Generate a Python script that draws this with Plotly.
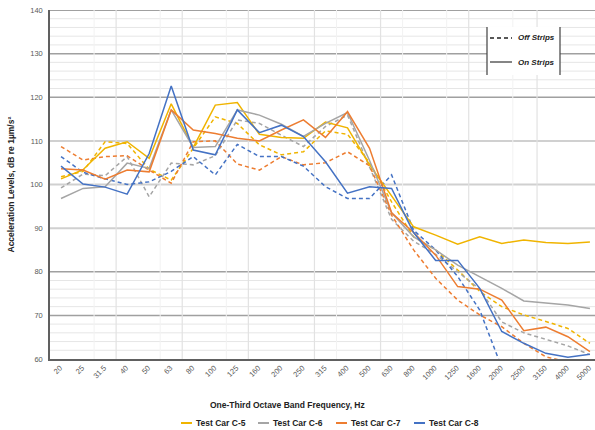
import plotly.graph_objects as go

freqs = ["20", "25", "31.5", "40", "50", "63", "80", "100", "125", "160", "200", "250",
         "315", "400", "500", "630", "800", "1000", "1250", "1600", "2000", "2500",
         "3150", "4000", "5000"]

# On strips (solid)
c5_on = [101.3, 103.4, 108.3, 109.8, 106.0, 118.5, 108.5, 118.2, 118.8, 111.5, 110.8, 110.6,
         114.3, 113.0, 104.5, 97.5, 90.3, 88.4, 86.3, 88.0, 86.5, 87.3, 86.7, 86.5, 86.8]
c6_on = [96.8, 99.1, 99.5, 104.9, 103.7, 117.1, 108.5, 108.7, 117.1, 115.9, 113.8, 111.0,
         114.0, 116.5, 105.5, 93.5, 88.0, 85.0, 81.5, 78.9, 76.2, 73.3, 72.9, 72.4, 71.6]
c7_on = [103.6, 103.3, 101.2, 103.3, 102.9, 117.1, 112.5, 111.7, 110.6, 110.0, 112.5, 114.8,
         110.8, 116.7, 108.3, 93.5, 89.0, 83.8, 76.6, 76.0, 73.5, 66.5, 67.3, 65.1, 61.7]
c8_on = [104.2, 100.1, 99.4, 97.8, 107.1, 122.6, 107.9, 106.8, 117.1, 111.9, 113.6, 111.0,
         105.2, 98.0, 99.5, 99.1, 89.0, 82.6, 82.6, 76.2, 66.3, 63.6, 61.3, 60.4, 61.1]

# Off strips (dashed)
c5_off = [101.8, 103.0, 109.8, 109.4, 103.5, 101.0, 108.3, 115.5, 114.0, 109.1, 106.8, 107.5,
          112.3, 111.5, 105.0, 96.0, 88.0, 85.0, 80.4, 75.5, 72.0, 70.1, 68.6, 67.0, 63.6]
c6_off = [99.2, 102.4, 102.0, 106.4, 97.2, 104.9, 104.5, 106.6, 114.8, 114.0, 111.3, 108.7,
          113.3, 115.9, 104.0, 92.0, 87.0, 84.0, 80.0, 76.0, 68.5, 66.0, 64.5, 63.0, 61.0]
c7_off = [108.7, 105.6, 106.4, 106.6, 103.3, 100.3, 109.8, 110.0, 104.7, 103.3, 106.4, 104.5,
          105.0, 107.5, 104.3, 93.0, 85.0, 78.5, 73.5, 70.1, 67.4, 63.6, 60.5, 59.3, None]
c8_off = [106.4, 102.8, 101.3, 100.0, 100.6, 103.0, 106.4, 102.2, 109.2, 106.4, 106.4, 104.2,
          99.5, 96.8, 96.8, 102.2, 89.5, 85.0, 78.9, 71.2, 58.0, None, None, None, None]

cars = ["Test Car C-5", "Test Car C-6", "Test Car C-7", "Test Car C-8"]
on_series = [c5_on, c6_on, c7_on, c8_on]
off_series = [c5_off, c6_off, c7_off, c8_off]
colors = ["#F0B400", "#A5A5A5", "#ED7D31", "#4472C4"]

y_ticks = [60, 70, 80, 90, 100, 110, 120, 130, 140]

# layout geometry (pixels)
W, H = 595, 430
L, R, T, B = 50, 0, 10, 71
PW, PH = W - L - R, H - T - B


def px(xp):
    return (xp - L) / PW


def py(yp):
    return (H - B - yp) / PH


fig = go.Figure()

for name, ys, col in zip(cars, off_series, colors):
    fig.add_trace(go.Scatter(x=freqs, y=ys, mode="lines", name=name + " (Off Strips)",
                             line=dict(color=col, width=1.5, dash="4px,3px"),
                             hoverinfo="skip"))
for name, ys, col in zip(cars, on_series, colors):
    fig.add_trace(go.Scatter(x=freqs, y=ys, mode="lines", name=name,
                             line=dict(color=col, width=1.5)))

shapes = []
annotations = []
# vertical gridlines
for xv in [2.5, 5.5, 8.5, 11.5, 14.5, 18.5, 21.6]:
    shapes.append(dict(type="line", xref="x", yref="y", x0=xv, x1=xv, y0=60, y1=140,
                       line=dict(color="#E2E2E2", width=1.2), layer="below"))
for xv in [1.5, 4.5, 7.5, 12.5, 15.5, 17.5, 20.5]:
    shapes.append(dict(type="line", xref="x", yref="y", x0=xv, x1=xv, y0=60, y1=140,
                       line=dict(color="#F2F2F2", width=1), layer="below"))
# minor horizontal lines
for yv in [62, 64, 66, 68, 72, 74, 76, 78, 122, 124, 126, 128, 132, 134, 136, 138]:
    shapes.append(dict(type="line", xref="paper", yref="y", x0=0, x1=1, y0=yv, y1=yv,
                       line=dict(color="#E6E6E6", width=1), layer="below"))
# light major horizontal lines
for yv in [90, 100, 110]:
    shapes.append(dict(type="line", xref="paper", yref="y", x0=0, x1=1, y0=yv, y1=yv,
                       line=dict(color="#D0D0D0", width=2), layer="below"))
# darker major horizontal lines
for yv in [70, 80, 120, 130]:
    shapes.append(dict(type="line", xref="paper", yref="y", x0=0, x1=1, y0=yv, y1=yv,
                       line=dict(color="#A0A0A0", width=1.5), layer="below"))
# top border
shapes.append(dict(type="line", xref="paper", yref="y", x0=0, x1=1, y0=140, y1=140,
                   line=dict(color="#808080", width=1.5), layer="below"))

# line-style key box
bx0, bx1, by0, by1 = px(487), px(560), py(75), py(27)
shapes.append(dict(type="rect", xref="paper", yref="paper", x0=bx0, x1=bx1, y0=by0, y1=by1,
                   fillcolor="white", line=dict(width=0), layer="above"))
for xv in [bx0, bx1]:
    shapes.append(dict(type="line", xref="paper", yref="paper", x0=xv, x1=xv, y0=by0, y1=by1,
                       line=dict(color="#404040", width=1.2), layer="above"))
key_items = [("Off Strips", 38, "4px,3px", 1.5), ("On Strips", 62, "solid", 1.1)]
for label, yy, dash, lw in key_items:
    shapes.append(dict(type="line", xref="paper", yref="paper", x0=px(490), x1=px(512),
                       y0=py(yy), y1=py(yy), line=dict(color="#222222", width=lw, dash=dash),
                       layer="above"))
    annotations.append(dict(text=label, xref="paper", yref="paper", x=px(516), y=py(yy),
                            xanchor="left", yanchor="middle", showarrow=False,
                            font=dict(size=8, color="#222222", style="italic", weight="bold")))

# bottom legend (series colours)
leg_y = 423
leg_x = [181, 258, 336, 414]
for name, col, x0 in zip(cars, colors, leg_x):
    shapes.append(dict(type="line", xref="paper", yref="paper", x0=px(x0), x1=px(x0 + 11),
                       y0=py(leg_y), y1=py(leg_y), line=dict(color=col, width=2)))
    annotations.append(dict(text=name, xref="paper", yref="paper", x=px(x0 + 12.5), y=py(leg_y),
                            xanchor="left", yanchor="middle", showarrow=False,
                            font=dict(size=8.5, color="#222222", weight="bold")))

annotations += [
    dict(text="One-Third Octave Band Frequency, Hz", xref="paper", yref="paper",
         x=px(287), y=py(405), showarrow=False, xanchor="center", yanchor="middle",
         font=dict(size=8.5, color="#222222", weight="bold")),
    dict(text="Acceleration Levels, dB re 1µm/s²", xref="paper", yref="paper",
         x=px(10), y=0.5, showarrow=False, textangle=-90, xanchor="center",
         yanchor="middle", font=dict(size=8.5, color="#222222", weight="bold")),
]

fig.update_layout(
    width=W, height=H,
    margin=dict(l=L, r=R, t=T, b=B),
    paper_bgcolor="white", plot_bgcolor="white",
    font=dict(family="Liberation Sans, Arial, sans-serif", color="#404040"),
    shapes=shapes,
    annotations=annotations,
    showlegend=False,
    xaxis=dict(type="category", categoryorder="array", categoryarray=freqs,
               range=[-0.5, 24.23], showgrid=False, zeroline=False, automargin=False,
               showline=True, linecolor="#606060", linewidth=1.5,
               tickangle=-45, tickfont=dict(size=7.5, color="#595959"), ticks="",
               ticklabelshift=-1),
    yaxis=dict(range=[60, 140], tickvals=y_ticks, showgrid=False, zeroline=False,
               automargin=False,
               showline=True, linecolor="#606060", linewidth=1.5,
               tickfont=dict(size=7.5, color="#595959"), ticks="", ticklabelstandoff=4),
)

# remove the browser's default page margin so the figure fills the window exactly
fig.write_html("out.html", config={"displayModeBar": False},
               post_script="document.body.style.margin='0px';")
